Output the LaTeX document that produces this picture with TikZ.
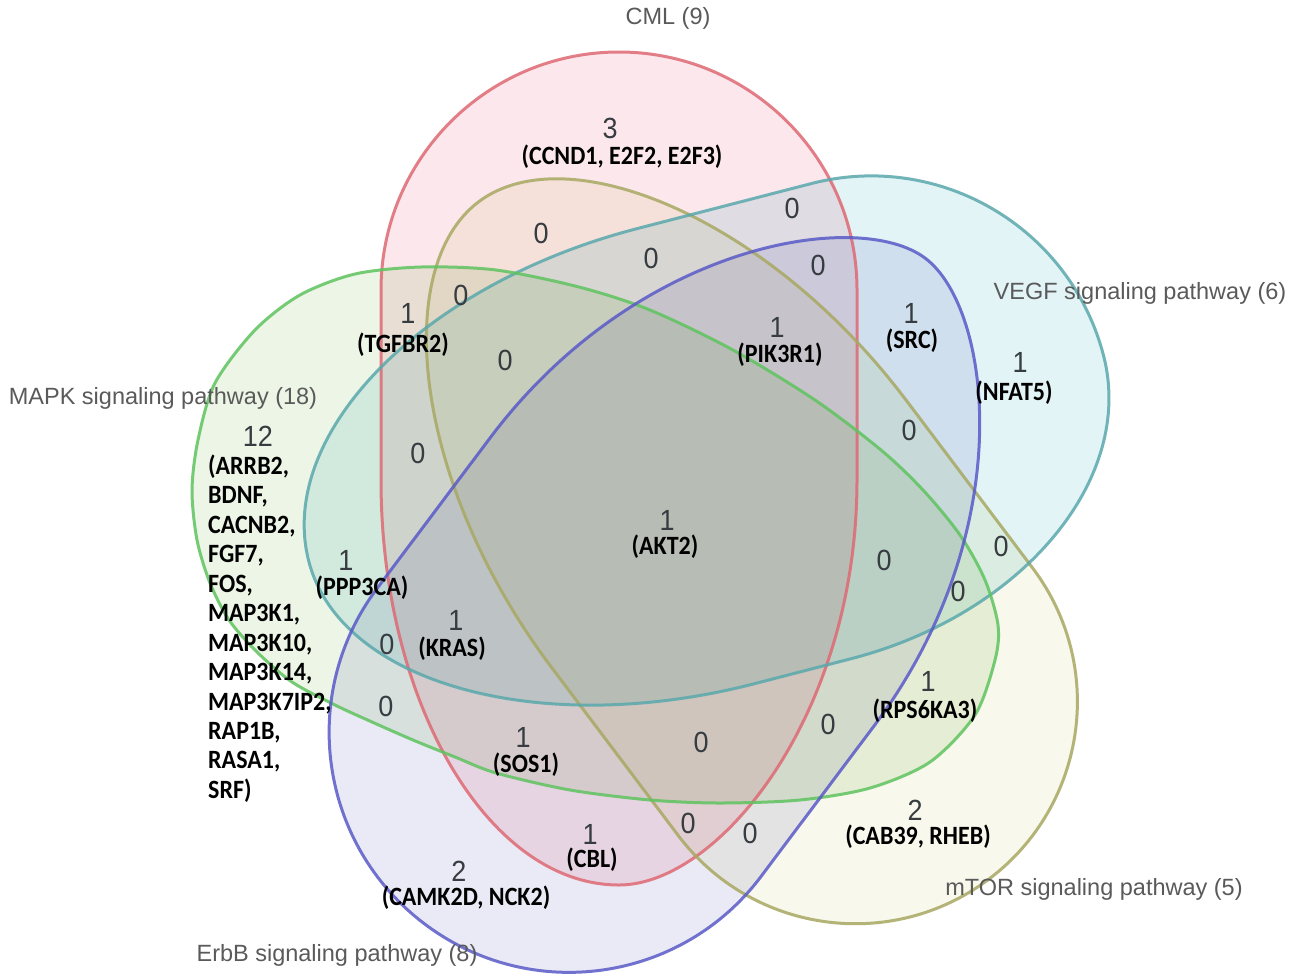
\documentclass[tikz,border=0pt]{standalone}
\usepackage{fontspec}
\setmainfont{Liberation Sans}
\newfontfamily\genefont{Carlito}
\definecolor{cmlfill}{RGB}{252,232,236}
\definecolor{vegffill}{RGB}{226,244,246}
\definecolor{mapkfill}{RGB}{236,245,230}
\definecolor{mtorfill}{RGB}{248,248,236}
\definecolor{erbbfill}{RGB}{234,234,246}
\definecolor{cmlline}{RGB}{222,105,115}
\definecolor{vegfline}{RGB}{90,168,172}
\definecolor{mapkline}{RGB}{95,195,95}
\definecolor{mtorline}{RGB}{168,168,98}
\definecolor{erbbline}{RGB}{90,90,200}
\definecolor{labelgray}{RGB}{90,90,90}
\definecolor{numgray}{RGB}{55,60,65}
% egg path in local axes: #1 wide length, #2 narrow length, #3/#4 straight parts,
% #5/#6 half widths (left/right of the axis), #7/#8 narrow-end controls (left side),
% #9 narrow-end second control (right side); right first control fixed by \eggkr
\newcommand{\eggkr}{0.55}
\newcommand{\eggpath}[9]{(0,-#6) -- (#4,-#6)
  .. controls ({#4+0.5523*(#1-#4)},-#6) and (#1,{-0.5523*#6}) .. (#1,0)
  .. controls (#1,{0.5523*#5}) and ({#3+0.5523*(#1-#3)},#5) .. (#3,#5) -- (0,#5)
  .. controls ({-#7*#2},#5) and (-#2,{#8*#5}) .. (-#2,0)
  .. controls (-#2,{-#9*#6}) and ({-\eggkr*#2},-#6) .. (0,-#6) -- cycle}
\newcommand{\cmlshape}[1]{\renewcommand{\eggkr}{0.58}\path[#1, shift={(619,480)}, rotate=90, y=1pt] \eggpath{428}{405}{190}{190}{238}{238}{0.55}{0.55}{0.42};}
\newcommand{\vegfshape}[1]{\renewcommand{\eggkr}{0.55}\path[#1, shift={(697,461)}, rotate=14.5, y=1pt] \eggpath{420}{401}{180}{100}{240}{230}{0.55}{0.55}{0.55};}
\newcommand{\erbbshape}[1]{\renewcommand{\eggkr}{0.6}\path[#1, shift={(682,582)}, rotate=233.1, y=1pt] \eggpath{428}{405}{188}{188}{240}{240}{0.6}{0.35}{0.35};}
\newcommand{\mtorshape}[1]{\renewcommand{\eggkr}{0.55}\path[#1, shift={(729,534)}, rotate=-53, y=1pt] \eggpath{432}{416}{210}{210}{222}{222}{0.55}{0.5}{0.5};}
\newcommand{\mapkshape}[1]{\path[#1] plot[smooth cycle] coordinates {(421,267) (496,270) (579,287) (650,310) (733,350) (815,400) (881,450) (923,490) (960,535) (985,580) (998,625) (995,660) (975,715) (930,762) (870,788) (800,800) (720,803) (650,800) (570,790) (496,773) (455,757) (413,740) (372,722) (335,705) (292,682) (257,652) (229,620) (210,583) (197,540) (192,490) (198,440) (215,383) (255,330) (300,295) (355,274)};}
\begin{document}
\begin{tikzpicture}[x=1pt,y=-1pt,
  setlabel/.style={font=\fontsize{23.5}{28}\selectfont, text=labelgray, inner sep=0pt},
  num/.style={font=\fontsize{27}{30}\selectfont, text=numgray, inner sep=0pt, yscale=1.08},
  gene/.style={font=\genefont\bfseries\fontsize{24}{26.8}\selectfont, text=black, inner sep=0pt, yscale=1.1},
  outline/.style={line width=3pt, draw opacity=0.85}]
\useasboundingbox (0,0) rectangle (1297,977);
\fill[white] (0,0) rectangle (1297,977);
\begin{scope}[blend group=multiply]
  \cmlshape{fill=cmlfill}
  \vegfshape{fill=vegffill}
  \mapkshape{fill=mapkfill}
  \mtorshape{fill=mtorfill}
  \erbbshape{fill=erbbfill}
\end{scope}
\cmlshape{draw=cmlline, outline}
\mtorshape{draw=mtorline, outline}
\vegfshape{draw=vegfline, outline}
\mapkshape{draw=mapkline, outline}
\erbbshape{draw=erbbline, outline}
% set labels
\node[setlabel] (lcml) at (668,18) {CML (9)};
\node[setlabel] (lvegf) at (1140,293) {VEGF signaling pathway (6)};
\node[setlabel] (lmapk) at (163,398) {MAPK signaling pathway (18)};
\node[setlabel] (lmtor) at (1094,889) {mTOR signaling pathway (5)};
\node[setlabel] (lerbb) at (337,955) {ErbB signaling pathway (8)};
% counts and genes
\node[num] (n3) at (610,128) {3};
\node[gene] (g3) at (622,157) {(CCND1, E2F2, E2F3)};
\node[num] (z1) at (541,233) {0};
\node[num] (z2) at (651,258) {0};
\node[num] (z3) at (792,208) {0};
\node[num] (z4) at (818,265) {0};
\node[num] (z5) at (461,295) {0};
\node[num] (z6) at (505,360) {0};
\node[num] (z7) at (418,453) {0};
\node[num] (z8) at (909,430) {0};
\node[num] (z9) at (884,560) {0};
\node[num] (z10) at (1001,546) {0};
\node[num] (z11) at (958,591) {0};
\node[num] (z12) at (387,644) {0};
\node[num] (z13) at (386,706) {0};
\node[num] (z14) at (828,724) {0};
\node[num] (z15) at (701,742) {0};
\node[num] (z16) at (688,823) {0};
\node[num] (z17) at (750,833) {0};
\node[num] (n1a) at (408,313) {1};
\node[gene] (g1a) at (403,345) {(TGFBR2)};
\node[num] (n1b) at (777,327) {1};
\node[gene] (g1b) at (780,355) {(PIK3R1)};
\node[num] (n1c) at (911,313) {1};
\node[gene] (g1c) at (912,341) {(SRC)};
\node[num] (n1d) at (1020,362) {1};
\node[gene] (g1d) at (1014,393) {(NFAT5)};
\node[num] (n1e) at (667,520) {1};
\node[gene] (g1e) at (665,547) {(AKT2)};
\node[num] (n1f) at (346,560) {1};
\node[gene] (g1f) at (362,588) {(PPP3CA)};
\node[num] (n1g) at (456,620) {1};
\node[gene] (g1g) at (452,649) {(KRAS)};
\node[num] (n1h) at (928,681) {1};
\node[gene] (g1h) at (925,711) {(RPS6KA3)};
\node[num] (n1i) at (523,737) {1};
\node[gene] (g1i) at (526,765) {(SOS1)};
\node[num] (n1j) at (590,834) {1};
\node[gene] (g1j) at (592,860) {(CBL)};
\node[num] (n2a) at (915,810) {2};
\node[gene] (g2a) at (918,837) {(CAB39, RHEB)};
\node[num] (n2b) at (459,871) {2};
\node[gene] (g2b) at (466,898) {(CAMK2D, NCK2)};
\node[num] (n12) at (258,436) {12};
\node[gene, align=left, anchor=west] (g12) at (208,628.5) {(ARRB2,\\BDNF,\\CACNB2,\\FGF7,\\FOS,\\MAP3K1,\\MAP3K10,\\MAP3K14,\\MAP3K7IP2,\\RAP1B,\\RASA1,\\SRF)};
\end{tikzpicture}
\end{document}
